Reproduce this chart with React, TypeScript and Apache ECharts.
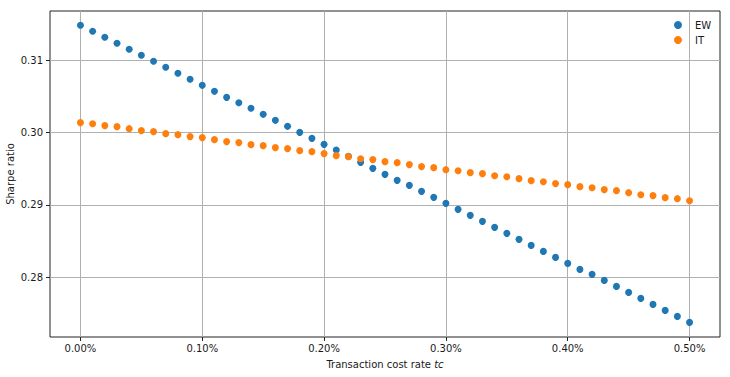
import React, { useEffect, useRef } from "react";
import * as echarts from "echarts";

// Transaction cost rate tc, in percent
const tcRates = [
  0.0, 0.01, 0.02, 0.03, 0.04, 0.05, 0.06, 0.07, 0.08, 0.09,
  0.1, 0.11, 0.12, 0.13, 0.14, 0.15, 0.16, 0.17, 0.18, 0.19,
  0.2, 0.21, 0.22, 0.23, 0.24, 0.25, 0.26, 0.27, 0.28, 0.29,
  0.3, 0.31, 0.32, 0.33, 0.34, 0.35, 0.36, 0.37, 0.38, 0.39,
  0.4, 0.41, 0.42, 0.43, 0.44, 0.45, 0.46, 0.47, 0.48, 0.49,
  0.5,
];

const ewSharpe = [
  0.31484, 0.31401, 0.31318, 0.31235, 0.31152, 0.31069, 0.30986, 0.30903, 0.3082, 0.30737,
  0.30654, 0.30571, 0.30488, 0.30414, 0.30336, 0.30253, 0.3017, 0.30087, 0.30004, 0.29921,
  0.29838, 0.29759, 0.29672, 0.29589, 0.29506, 0.29423, 0.2934, 0.29271, 0.29188, 0.29105,
  0.29022, 0.28939, 0.28856, 0.28773, 0.2869, 0.28607, 0.28524, 0.28441, 0.28358, 0.28275,
  0.28192, 0.28109, 0.2804, 0.27957, 0.27874, 0.27791, 0.27708, 0.27625, 0.27542, 0.27459,
  0.27376,
];

const itSharpe = [
  0.30138, 0.30124, 0.30097, 0.30083, 0.30055, 0.30028, 0.30014, 0.29986, 0.29972, 0.29945,
  0.29931, 0.29903, 0.29876, 0.29862, 0.29834, 0.2982, 0.29793, 0.29779, 0.29751, 0.29737,
  0.2971, 0.29682, 0.29668, 0.2964, 0.29627, 0.29599, 0.29585, 0.29558, 0.2953, 0.29516,
  0.29488, 0.29474, 0.29447, 0.29433, 0.29405, 0.29391, 0.29364, 0.29336, 0.29322, 0.29295,
  0.29281, 0.29253, 0.29239, 0.29212, 0.29198, 0.2917, 0.29142, 0.29129, 0.29101, 0.29087,
  0.29059,
];

const xTickValues = [0, 0.1, 0.2, 0.3, 0.4, 0.5];
const yTickValues = [0.28, 0.29, 0.3, 0.31];

const FONT = "DejaVu Sans";
const TEXT = "#1a1a1a";

export default function App() {
  const ref = useRef<HTMLDivElement>(null);

  useEffect(() => {
    const chart = echarts.init(ref.current!, null, { renderer: "svg" });
    chart.setOption({
      animation: false,
      backgroundColor: "#ffffff",
      textStyle: { fontFamily: FONT },
      grid: {
        left: 50,
        top: 11,
        right: 10,
        bottom: 40,
        containLabel: false,
        outerBoundsMode: "none",
        show: true,
        borderColor: "#222222",
        borderWidth: 1,
        backgroundColor: "transparent",
      },
      legend: {
        orient: "vertical",
        left: 674,
        top: 20,
        padding: 0,
        icon: "circle",
        itemWidth: 8,
        itemHeight: 8,
        itemGap: 5,
        textStyle: {
          fontFamily: FONT,
          fontSize: 10,
          color: TEXT,
          padding: [0, 0, 0, 8],
          lineHeight: 10,
        },
        data: ["EW", "IT"],
      },
      xAxis: {
        type: "value",
        min: -0.025,
        max: 0.525,
        name: "Transaction cost rate {i|tc}",
        nameLocation: "middle",
        nameMoveOverlap: false,
        nameGap: 22,
        nameTextStyle: {
          fontFamily: FONT,
          fontSize: 10,
          color: TEXT,
          rich: {
            i: { fontFamily: FONT, fontSize: 10, fontStyle: "italic", color: TEXT },
          },
        },
        axisLine: { show: false, onZero: false },
        axisTick: {
          show: true,
          inside: false,
          length: 4,
          customValues: xTickValues,
          lineStyle: { color: "#222222", width: 1 },
        },
        axisLabel: {
          customValues: xTickValues,
          margin: 6,
          fontFamily: FONT,
          fontSize: 10,
          color: TEXT,
          formatter: (v: number) => v.toFixed(2) + "%",
        },
        splitLine: { show: true, lineStyle: { color: "#b0b0b0", width: 1 } },
      },
      yAxis: {
        type: "value",
        min: 0.27174,
        max: 0.31682,
        name: "Sharpe ratio",
        nameLocation: "middle",
        nameMoveOverlap: false,
        nameGap: 35,
        nameTextStyle: { fontFamily: FONT, fontSize: 10, color: TEXT },
        axisLine: { show: false, onZero: false },
        axisTick: {
          show: true,
          inside: false,
          length: 4,
          customValues: yTickValues,
          lineStyle: { color: "#222222", width: 1 },
        },
        axisLabel: {
          customValues: yTickValues,
          margin: 7,
          fontFamily: FONT,
          fontSize: 10,
          color: TEXT,
          formatter: (v: number) => v.toFixed(2),
        },
        splitLine: { show: true, lineStyle: { color: "#b0b0b0", width: 1 } },
      },
      series: [
        {
          name: "EW",
          type: "scatter",
          symbol: "circle",
          symbolSize: 7,
          itemStyle: { color: "#1f77b4", opacity: 1 },
          data: tcRates.map((x, i) => [x, ewSharpe[i]]),
          z: 2,
        },
        {
          name: "IT",
          type: "scatter",
          symbol: "circle",
          symbolSize: 7,
          itemStyle: { color: "#ff7f0e", opacity: 1 },
          data: tcRates.map((x, i) => [x, itSharpe[i]]),
          z: 3,
        },
      ],
    });
    return () => chart.dispose();
  }, []);

  return (
    <div
      ref={ref}
      style={{ position: "fixed", left: 0, top: 0, width: 730, height: 377 }}
    />
  );
}
